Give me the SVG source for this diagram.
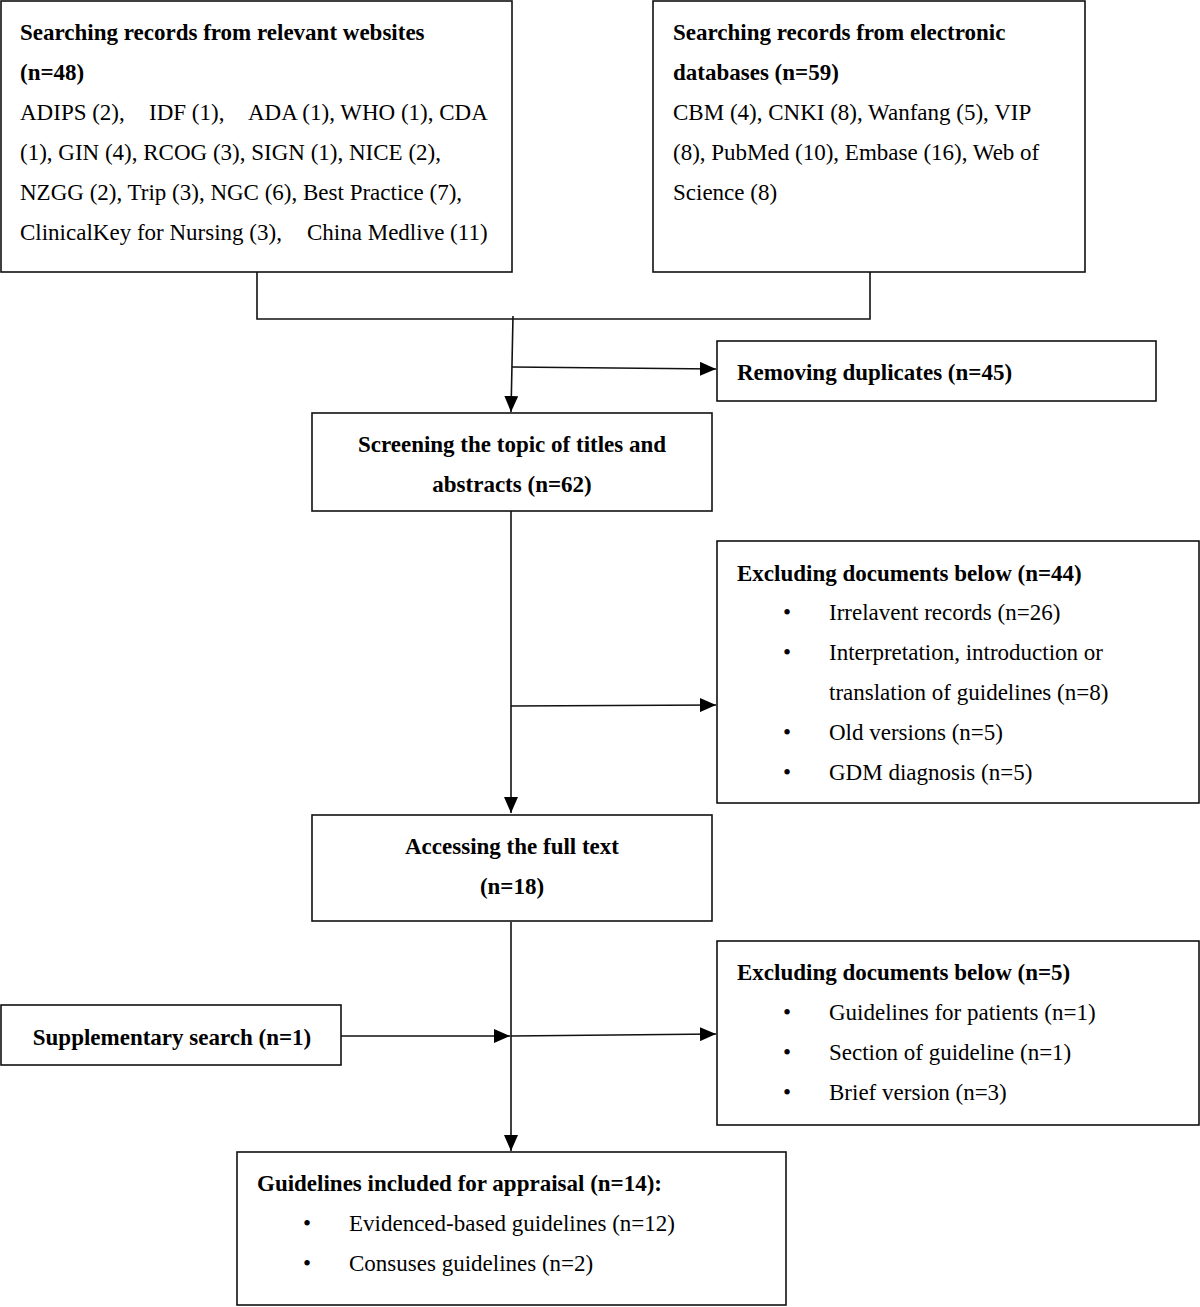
<svg xmlns="http://www.w3.org/2000/svg" width="1200" height="1307" viewBox="0 0 1200 1307">
<style>
.box{fill:#fff;stroke:#111;stroke-width:1.6}
.t{font-family:"Liberation Serif","Times New Roman",serif;font-size:23px;fill:#000}
.b{font-weight:bold}
.c{text-anchor:middle}
.ln{fill:none;stroke:#111;stroke-width:1.6}
</style>
<defs>
<marker id="ah" markerUnits="userSpaceOnUse" markerWidth="16" markerHeight="14" viewBox="0 0 16 14" refX="16" refY="7" orient="auto">
<path d="M0,0 L16,7 L0,14 Z" fill="#000"/>
</marker>
</defs>
<rect width="1200" height="1307" fill="#fff"/>
<g id="connectors">
<path class="ln" d="M257 272 V319 H870 V272"/>
<line class="ln" x1="513" y1="316" x2="511" y2="412" marker-end="url(#ah)"/>
<line class="ln" x1="512" y1="367" x2="716" y2="369" marker-end="url(#ah)"/>
<line class="ln" x1="511" y1="511" x2="511" y2="813" marker-end="url(#ah)"/>
<line class="ln" x1="511" y1="706" x2="716" y2="705" marker-end="url(#ah)"/>
<line class="ln" x1="511" y1="922" x2="511" y2="1151" marker-end="url(#ah)"/>
<line class="ln" x1="341" y1="1036" x2="510" y2="1036" marker-end="url(#ah)"/>
<line class="ln" x1="511" y1="1036" x2="716" y2="1034" marker-end="url(#ah)"/>
</g>
<g id="websites">
<rect class="box" x="1" y="1" width="511" height="271"/>
<text class="t b" x="20" y="40">Searching records from relevant websites</text>
<text class="t b" x="20" y="80">(n=48)</text>
<text class="t" y="120"><tspan x="20">ADIPS (2),</tspan><tspan x="149">IDF (1),</tspan><tspan x="248">ADA (1), WHO (1), CDA</tspan></text>
<text class="t" x="20" y="160">(1), GIN (4), RCOG (3), SIGN (1), NICE (2),</text>
<text class="t" x="20" y="200">NZGG (2), Trip (3), NGC (6), Best Practice (7),</text>
<text class="t" y="240"><tspan x="20">ClinicalKey for Nursing (3),</tspan><tspan x="307">China Medlive (11)</tspan></text>
</g>
<g id="databases">
<rect class="box" x="653" y="1" width="432" height="271"/>
<text class="t b" x="673" y="40">Searching records from electronic</text>
<text class="t b" x="673" y="80">databases (n=59)</text>
<text class="t" x="673" y="120">CBM (4), CNKI (8), Wanfang (5), VIP</text>
<text class="t" x="673" y="160">(8), PubMed (10), Embase (16), Web of</text>
<text class="t" x="673" y="200">Science (8)</text>
</g>
<g id="duplicates">
<rect class="box" x="717" y="341" width="439" height="60"/>
<text class="t b" x="737" y="380">Removing duplicates (n=45)</text>
</g>
<g id="screening">
<rect class="box" x="312" y="413" width="400" height="98"/>
<text class="t b c" x="512" y="452">Screening the topic of titles and</text>
<text class="t b c" x="512" y="492">abstracts (n=62)</text>
</g>
<g id="exclude1">
<rect class="box" x="717" y="541" width="482" height="262"/>
<text class="t b" x="737" y="581">Excluding documents below (n=44)</text>
<text class="t" x="783" y="620">•</text><text class="t" x="829" y="620">Irrelavent records (n=26)</text>
<text class="t" x="783" y="660">•</text><text class="t" x="829" y="660">Interpretation, introduction or</text>
<text class="t" x="829" y="700">translation of guidelines (n=8)</text>
<text class="t" x="783" y="740">•</text><text class="t" x="829" y="740">Old versions (n=5)</text>
<text class="t" x="783" y="780">•</text><text class="t" x="829" y="780">GDM diagnosis (n=5)</text>
</g>
<g id="fulltext">
<rect class="box" x="312" y="815" width="400" height="106"/>
<text class="t b c" x="512" y="854">Accessing the full text</text>
<text class="t b c" x="512" y="894">(n=18)</text>
</g>
<g id="supplementary">
<rect class="box" x="1" y="1005" width="340" height="60"/>
<text class="t b c" x="172" y="1045">Supplementary search (n=1)</text>
</g>
<g id="exclude2">
<rect class="box" x="717" y="941" width="482" height="184"/>
<text class="t b" x="737" y="980">Excluding documents below (n=5)</text>
<text class="t" x="783" y="1020">•</text><text class="t" x="829" y="1020">Guidelines for patients (n=1)</text>
<text class="t" x="783" y="1060">•</text><text class="t" x="829" y="1060">Section of guideline (n=1)</text>
<text class="t" x="783" y="1100">•</text><text class="t" x="829" y="1100">Brief version (n=3)</text>
</g>
<g id="included">
<rect class="box" x="237" y="1152" width="549" height="153"/>
<text class="t b" x="257" y="1191">Guidelines included for appraisal (n=14):</text>
<text class="t" x="303" y="1231">•</text><text class="t" x="349" y="1231">Evidenced-based guidelines (n=12)</text>
<text class="t" x="303" y="1271">•</text><text class="t" x="349" y="1271">Consuses guidelines (n=2)</text>
</g>
</svg>
